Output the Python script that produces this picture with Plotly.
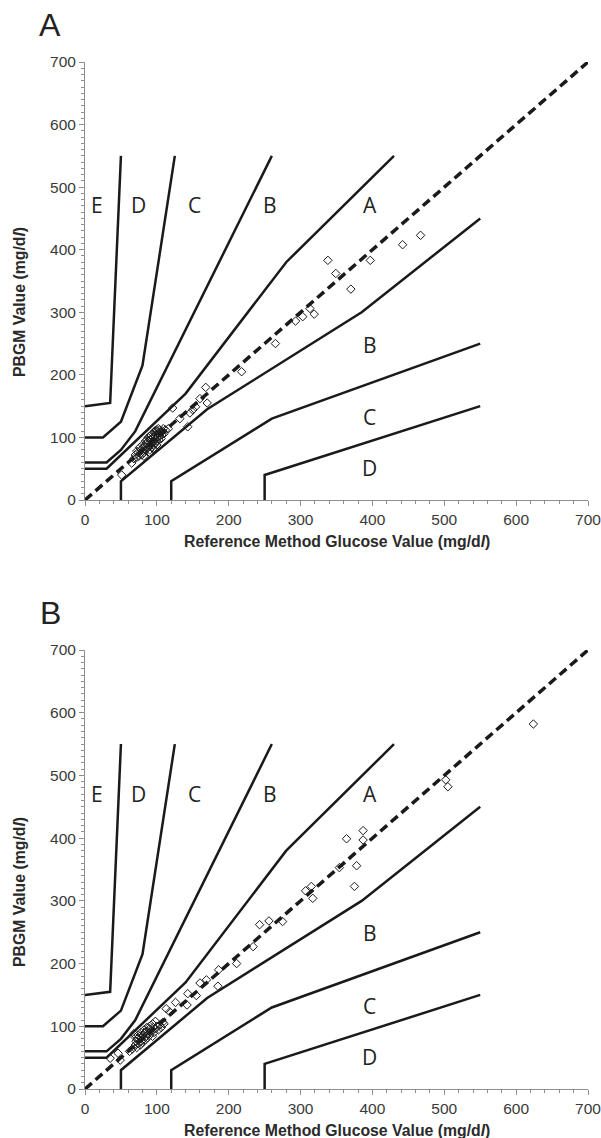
import plotly.graph_objects as go

# ---------------- data ----------------
# Parkes (consensus) error grid, type 1 diabetes zone boundaries
zone_A_upper_x = [0, 30, 140, 280, 430]
zone_A_upper_y = [50, 50, 170, 380, 550]
zone_A_lower_x = [50, 50, 170, 385, 550]
zone_A_lower_y = [0, 30, 145, 300, 450]
zone_B_upper_x = [0, 30, 50, 70, 260]
zone_B_upper_y = [60, 60, 80, 110, 550]
zone_B_lower_x = [120, 120, 260, 550]
zone_B_lower_y = [0, 30, 130, 250]
zone_C_upper_x = [0, 25, 50, 80, 125]
zone_C_upper_y = [100, 100, 125, 215, 550]
zone_C_lower_x = [250, 250, 550]
zone_C_lower_y = [0, 40, 150]
zone_D_upper_x = [0, 35, 50]
zone_D_upper_y = [150, 155, 550]

identity_x = [0, 700]
identity_y = [0, 700]

zone_labels = ["E", "D", "C", "B", "A", "B", "C", "D"]
zone_label_x = [17, 74, 153, 257, 397, 396, 396, 396]
zone_label_y = [471, 471, 471, 471, 471, 248, 133, 51]

# Panel A measurements (reference, PBGM)
a_ref = [51, 65, 68, 70, 72, 74, 75, 77, 78, 79, 80, 81, 82, 83, 84, 85, 86, 87, 88, 88,
         89, 90, 90, 91, 92, 93, 93, 94, 95, 95, 96, 97, 98, 98, 99, 100, 101, 102, 103, 104,
         105, 106, 107, 108, 110, 112, 109, 116,
         72, 76, 80, 84, 86, 88, 90, 92, 94, 96, 97, 99, 100, 102, 104, 106, 82, 90, 95, 100,
         122, 132, 143, 146, 150, 154, 160, 168, 170,
         218, 265, 293, 303, 313, 319, 338, 349, 370, 397, 442, 467]
a_pbgm = [40, 59, 66, 72, 68, 76, 70, 74, 80, 72, 78, 84, 76, 86, 80, 90, 82, 88, 84, 94,
          86, 92, 80, 96, 88, 98, 84, 92, 100, 88, 94, 102, 90, 98, 104, 94, 100, 106, 96, 102,
          108, 98, 104, 110, 106, 112, 114, 114,
          78, 84, 88, 94, 96, 100, 102, 104, 106, 108, 110, 112, 110, 114, 112, 108, 70, 76, 82, 88,
          147, 130, 117, 139, 144, 149, 162, 180, 155,
          205, 250, 286, 293, 306, 297, 383, 362, 337, 383, 408, 423]

# Panel B measurements (reference, PBGM)
b_ref = [35, 46, 49, 62, 66, 68, 70, 71, 72, 73, 74, 75, 76, 77, 78, 79, 80, 81, 82, 83,
         84, 85, 86, 87, 88, 90, 90, 92, 94, 95, 96, 98, 100, 102, 104, 106, 108, 110,
         70, 74, 78, 82, 86, 90, 94, 98,
         113, 118, 126, 142, 143, 155, 160, 169, 185, 186, 211, 234, 243, 256, 275,
         307, 315, 317, 354, 364, 375, 378, 387, 387, 502, 505, 624]
b_pbgm = [49, 57, 46, 60, 64, 88, 70, 76, 66, 80, 72, 78, 84, 70, 76, 82, 74, 86, 80, 90,
          78, 84, 92, 82, 88, 86, 96, 92, 84, 98, 90, 96, 100, 94, 102, 98, 106, 104,
          82, 86, 90, 94, 98, 100, 104, 108,
          128, 123, 138, 134, 152, 149, 169, 174, 164, 190, 200, 227, 262, 268, 267,
          316, 323, 304, 353, 399, 323, 356, 412, 397, 493, 482, 582]

# ---------------- figure ----------------
fig = go.Figure()

zones = [
    (zone_A_upper_x, zone_A_upper_y), (zone_A_lower_x, zone_A_lower_y),
    (zone_B_upper_x, zone_B_upper_y), (zone_B_lower_x, zone_B_lower_y),
    (zone_C_upper_x, zone_C_upper_y), (zone_C_lower_x, zone_C_lower_y),
    (zone_D_upper_x, zone_D_upper_y),
]

panels = [("x", "y", a_ref, a_pbgm), ("x2", "y2", b_ref, b_pbgm)]
for xa, ya, rx, ry in panels:
    for zx, zy in zones:
        fig.add_trace(go.Scatter(x=zx, y=zy, mode="lines", xaxis=xa, yaxis=ya,
                                 line=dict(color="#1a1a1a", width=2.5),
                                 hoverinfo="skip", showlegend=False))
    fig.add_trace(go.Scatter(x=rx, y=ry, mode="markers", xaxis=xa, yaxis=ya,
                             marker=dict(symbol="diamond-open", size=6.5,
                                         color="#1a1a1a", line=dict(width=1, color="#1a1a1a")),
                             showlegend=False))
    fig.add_trace(go.Scatter(x=identity_x, y=identity_y, mode="lines", xaxis=xa, yaxis=ya,
                             line=dict(color="#1a1a1a", width=3.5, dash="9px,5px"),
                             hoverinfo="skip", showlegend=False))

tickfont = dict(family="Liberation Sans, Arial, sans-serif", size=15.5, color="#3a3a3a")
axis_common = dict(range=[0, 700], showgrid=False, zeroline=False, showline=True,
                   linecolor="#8f8f8f", linewidth=1, ticks="outside", ticklen=5,
                   tickcolor="#8f8f8f", tickwidth=1, dtick=100, tick0=0,
                   tickfont=tickfont, fixedrange=True, automargin=False,
                   ticklabeloverflow="allow")

top_a, bot_a = 1.0, 589 / 1027
top_b, bot_b = 439 / 1027, 0.0

fig.update_layout(
    width=601, height=1138,
    margin=dict(l=85, r=13, t=62, b=49, autoexpand=False),
    paper_bgcolor="white", plot_bgcolor="white",
    xaxis=dict(axis_common, domain=[0, 1], anchor="y",
               minor=dict(ticks="outside", ticklen=3, dtick=20, tickcolor="#8f8f8f")),
    yaxis=dict(axis_common, domain=[bot_a, top_a], anchor="x",
               minor=dict(ticks="outside", ticklen=3, dtick=10, tickcolor="#8f8f8f")),
    xaxis2=dict(axis_common, domain=[0, 1], anchor="y2",
                minor=dict(ticks="outside", ticklen=3, dtick=20, tickcolor="#8f8f8f")),
    yaxis2=dict(axis_common, domain=[bot_b, top_b], anchor="x2",
                minor=dict(ticks="outside", ticklen=3, dtick=10, tickcolor="#8f8f8f")),
)

annotations = []
letter_font = dict(family="Open Sans, sans-serif", size=21, color="#222222")
for xr, yr in [("x", "y"), ("x2", "y2")]:
    for t, lx, ly in zip(zone_labels, zone_label_x, zone_label_y):
        annotations.append(dict(text=t, x=lx, y=ly, xref=xr, yref=yr, showarrow=False,
                                font=letter_font, xanchor="center", yanchor="middle"))

title_font = dict(family="Liberation Sans, Arial, sans-serif", size=15.8, color="#2a2a2a")
xtitle = "<b>Reference Method Glucose Value (mg/d<i>l</i>)</b>"
ytitle = "<b>PBGM Value (mg/d<i>l</i>)</b>"
for ty, cy, letter, ly in [((1089 - 541) / 1027, (1089 - 302) / 1027, "A", (1089 - 25) / 1027),
                           ((1089 - 1130) / 1027, (1089 - 892) / 1027, "B", (1089 - 613) / 1027)]:
    annotations.append(dict(text=xtitle, x=0.5, y=ty, xref="paper", yref="paper",
                            showarrow=False, font=title_font, xanchor="center", yanchor="middle"))
    annotations.append(dict(text=ytitle, x=(19 - 85) / 503, y=cy, xref="paper", yref="paper",
                            showarrow=False, font=title_font, textangle=-90,
                            xanchor="center", yanchor="middle"))
    annotations.append(dict(text=letter, x=(50 - 85) / 503, y=ly, xref="paper", yref="paper",
                            showarrow=False, xanchor="center", yanchor="middle",
                            font=dict(family="Liberation Sans, Arial, sans-serif", size=32,
                                      color="#222222")))

fig.update_layout(annotations=annotations)
fig.write_html("out.html")
